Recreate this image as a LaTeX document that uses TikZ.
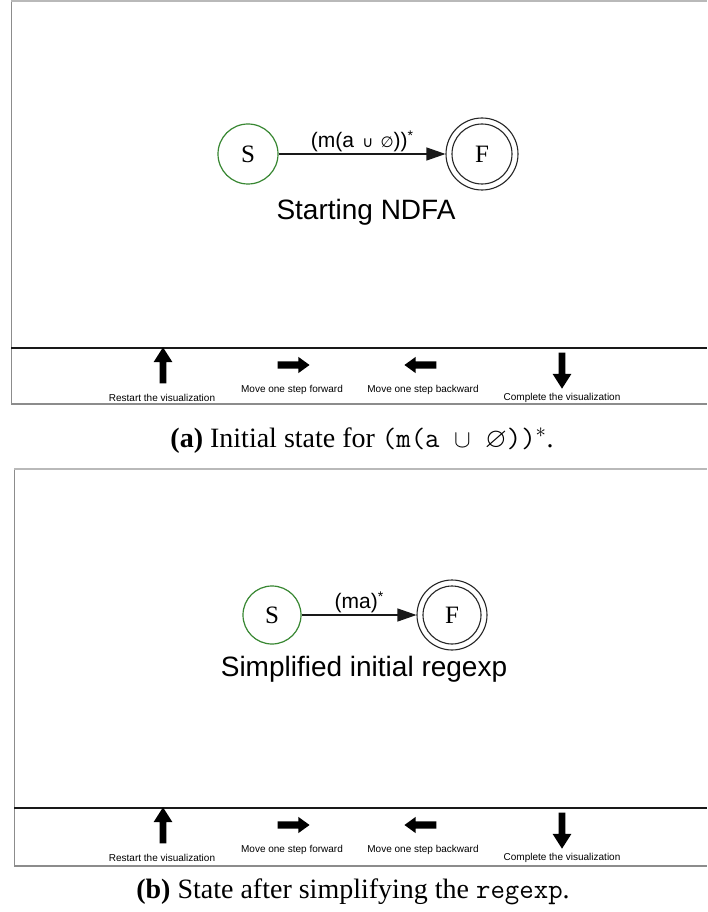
\documentclass[tikz,border=0pt]{standalone}
\usepackage{amssymb}
\usepackage{fontspec}
\setmainfont{Liberation Serif}
\newfontfamily\helv{Liberation Sans}
\newfontfamily\symfont{DejaVu Sans}
\usetikzlibrary{arrows.meta,shapes.arrows}

\definecolor{startgreen}{RGB}{56,135,50}
\definecolor{framegray}{RGB}{140,140,140}
\definecolor{framelight}{RGB}{185,185,185}

\tikzset{
  startstate/.style={circle,draw=startgreen,line width=1.2pt,minimum size=#1,inner sep=0pt,font=\fontsize{25}{27}\selectfont},
  finalstate/.style={circle,draw=black!85,line width=1.1pt,minimum size=#1,inner sep=0pt,font=\fontsize{25}{27}\selectfont},
  transition/.style={draw=black!90,line width=1.1pt,-{Triangle[length=19pt,width=13pt]}},
  edgelabel/.style={font=\helv\fontsize{21}{23}\selectfont,inner sep=1.5pt,anchor=south},
  headline/.style={font=\helv\fontsize{28}{30}\selectfont,inner sep=0pt},
  vnavarrow/.style={single arrow,fill=black,draw=none,inner sep=3.2pt,minimum height=36pt,
    single arrow head extend=6pt,single arrow head indent=0pt,single arrow tip angle=65},
  hnavarrow/.style={single arrow,fill=black,draw=none,inner sep=3.5pt,minimum height=32pt,
    single arrow head extend=4.5pt,single arrow head indent=0pt,single arrow tip angle=72},
  navtext/.style={font=\helv\fontsize{10}{12}\selectfont,inner sep=0pt},
  captiontext/.style={font=\fontsize{28}{32}\selectfont,inner sep=0pt,anchor=base},
}

% one panel: frame, divider and the four navigation buttons
% #1 name prefix, #2 left edge, #3 top edge, #4 divider, #5 bottom edge
\newcommand\drawpanel[5]{%
  \draw[framegray,line width=1pt] (#2,#5) -- (#2,#3);
  \draw[framelight,line width=1.2pt] (#2,#3) -- (707,#3);
  \draw[framegray,line width=1.2pt] (#2,#5) -- (707,#5);
  \draw[black!90,line width=1.2pt] (#2,#4) -- (707,#4);
  \node[vnavarrow,shape border rotate=90] (#1up) at (163,#4+20) {};
  \node[hnavarrow] (#1fw) at (291,#4+17) {};
  \node[hnavarrow,shape border rotate=180] (#1bw) at (423,#4+17) {};
  \node[vnavarrow,shape border rotate=270] (#1dn) at (562,#4+20) {};
  \node[navtext] (#1uptxt) at (162,#4+50) {Restart the visualization};
  \node[navtext] (#1fwtxt) at (292,#4+42) {Move one step forward};
  \node[navtext] (#1bwtxt) at (423,#4+42) {Move one step backward};
  \node[navtext] (#1dntxt) at (562,#4+50) {Complete the visualization};
}

\begin{document}
\begin{tikzpicture}[x=1pt,y=-1pt]
\useasboundingbox[fill=white] (0,0) rectangle (707,912);

% ---- panel (a) ----
\drawpanel{a}{11}{1}{348}{404}
\node[startstate=60pt] (aS) at (248,154) {S};
\node[finalstate=72pt] (aF) at (482,154) {F};
\draw[black!85,line width=1.1pt] (aF.center) circle[radius=30pt];
\draw[transition] (aS) -- (aF)
  node[midway,edgelabel] (alab) {(m(a {\symfont\fontsize{15}{17}\selectfont\,∪\, ∅}))\raisebox{7pt}{\fontsize{14}{14}\selectfont*}};
\node[headline] (atitle) at (366,212) {Starting NDFA};
\node[captiontext] (acap) at (362,447) {\textbf{(a)} Initial state for \texttt{(m(a $\cup$ $\varnothing$))}$^*$.};

% ---- panel (b) ----
\drawpanel{b}{14}{469}{808}{866}
\node[startstate=58pt] (bS) at (272,615) {S};
\node[finalstate=70pt] (bF) at (452,615) {F};
\draw[black!85,line width=1.1pt] (bF.center) circle[radius=29pt];
\draw[transition] (bS) -- (bF)
  node[midway,edgelabel] (blab) {(ma)\raisebox{7pt}{\fontsize{14}{14}\selectfont*}};
\node[headline] (btitle) at (364,669) {Simplified initial regexp};
\node[captiontext] (bcap) at (353,898) {\textbf{(b)} State after simplifying the \texttt{regexp}.};
\end{tikzpicture}
\end{document}
